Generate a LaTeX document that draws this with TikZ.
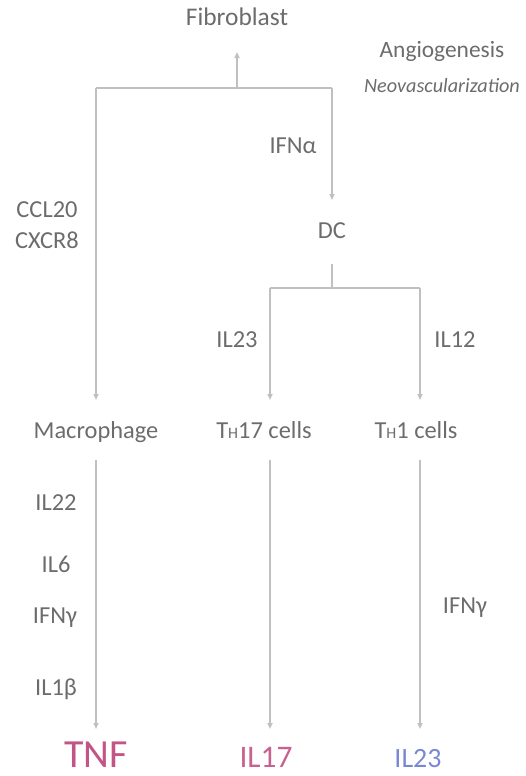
\documentclass[tikz,border=0pt]{standalone}
\usepackage{fontspec}
\setmainfont{Carlito}
\usetikzlibrary{arrows.meta}
\definecolor{txt}{RGB}{108,108,108}
\definecolor{ln}{RGB}{192,192,192}
\definecolor{pinkA}{RGB}{194,84,134}
\definecolor{pinkB}{RGB}{200,96,144}
\definecolor{blueA}{RGB}{122,136,212}
\begin{document}
\begin{tikzpicture}[x=1bp,y=-1bp,
  lbl/.style={font=\fontsize{24.5}{28}\selectfont, text=txt, inner sep=0pt, anchor=base},
  cell/.style={font=\fontsize{24.5}{28}\selectfont, text=txt, inner sep=0pt, text height=17bp, text depth=5bp, outer ysep=21bp, anchor=base},
  link/.style={draw=ln, line width=1.6bp},
  arr/.style={link, -{Triangle[length=6bp,width=5bp]}},
  prod/.style={inner sep=0pt, text height=38bp, text depth=0pt, anchor=north}]
\useasboundingbox (0,0) rectangle (526,776);
% top
\node[cell, font=\fontsize{25.5}{29}\selectfont] (fib) at (237,26) {Fibroblast};
\node[lbl, font=\fontsize{23.5}{27}\selectfont] (ang) at (442,58) {Angiogenesis};
\node[lbl, font=\fontsize{20.3}{23}\selectfont\itshape] (neo) at (442,92) {Neovascularization};
\coordinate (jl) at (96,88);
\coordinate (jm) at (237,88);
\coordinate (jr) at (332,88);
\draw[link] (jl) -- (jr);
\draw[arr] (jm) -- (fib.south);
\node[lbl] (ifna) at (293,153) {IFNα};
\node[lbl] (ccl) at (47,217) {CCL20};
\node[lbl] (cxcr) at (47,248) {CXCR8};
% DC
\node[cell] (dc) at (332,238) {DC};
\draw[arr] (jr) -- (dc.north);
\coordinate (dj) at (332,288);
\coordinate (dl) at (270,288);
\coordinate (dr) at (420,288);
\draw[link] (dc.south) -- (dj);
\draw[link] (dl) -- (dr);
\node[lbl] (il23a) at (237,347) {IL23};
\node[lbl] (il12) at (455,347) {IL12};
% cells
\node[cell] (mac) at (96,438) {Macrophage};
\node[cell] (th17) at (264,438) {T{\fontsize{16}{16}\selectfont H}17 cells};
\node[cell] (th1) at (416,438) {T{\fontsize{16}{16}\selectfont H}1 cells};
\draw[arr] (jl) -- (mac.north);
\draw[arr] (dl) -- (dl |- th17.north);
\draw[arr] (dr) -- (dr |- th1.north);
% cytokine labels
\node[lbl] (il22) at (56,510) {IL22};
\node[lbl] (il6) at (56,572) {IL6};
\node[lbl] (ifng) at (55,623) {IFNγ};
\node[lbl] (il1b) at (56,695) {IL1β};
\node[lbl] (ifngr) at (465,613) {IFNγ};
% products
\node[prod, text=pinkA, font=\fontsize{40}{44}\selectfont] (tnf) at (96,729) {TNF};
\node[prod, text=pinkB, font=\fontsize{31.5}{36}\selectfont] (il17) at (266,729) {IL17};
\node[prod, text=blueA, font=\fontsize{28}{32}\selectfont] (il23b) at (418,729) {IL23};
\draw[arr] ([yshift=4bp]mac.south) -- (mac.south |- tnf.north);
\draw[arr] ([yshift=4bp]dl |- th17.south) -- (dl |- il17.north);
\draw[arr] ([yshift=4bp]dr |- th1.south) -- (dr |- il23b.north);
\end{tikzpicture}
\end{document}
